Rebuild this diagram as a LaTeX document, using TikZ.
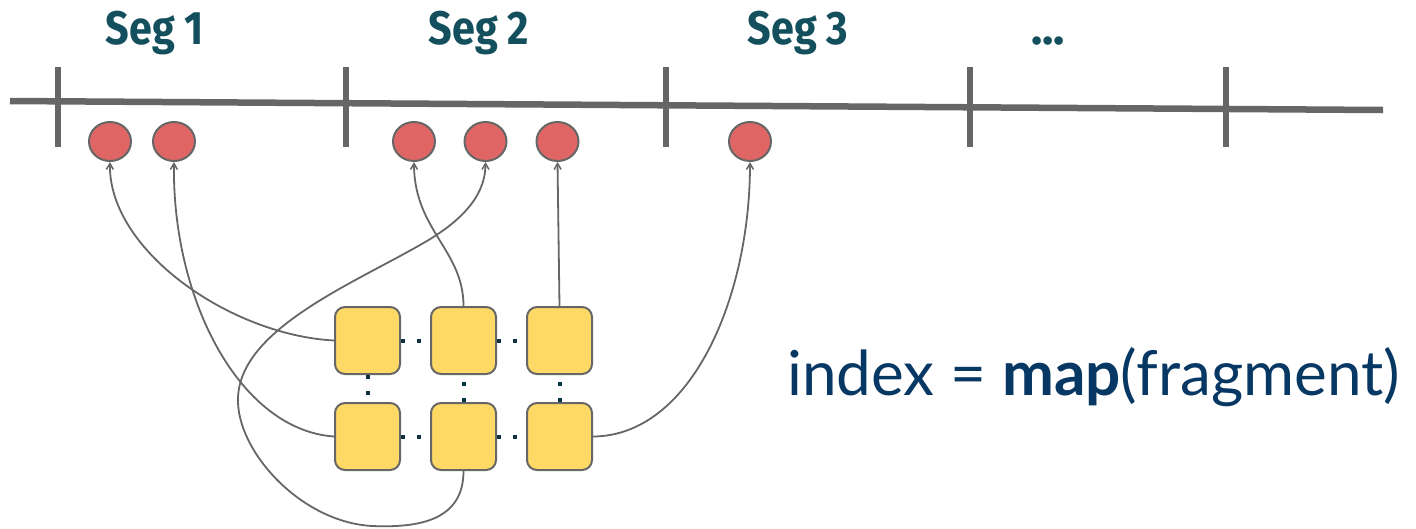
\documentclass[tikz,border=0pt]{standalone}
\usepackage{fontspec}
\setmainfont{Lato}
\newfontfamily\segfont{Fira Sans}
\usetikzlibrary{shapes.geometric,arrows.meta}
\definecolor{linegray}{HTML}{666666}
\definecolor{segteal}{HTML}{134F5C}
\definecolor{dotteal}{HTML}{0C343D}
\definecolor{fragred}{HTML}{E06666}
\definecolor{fragyellow}{HTML}{FFD966}
\definecolor{formblue}{HTML}{073763}
\tikzset{
  axis/.style={draw=linegray, line width=6.5pt},
  tickmark/.style={draw=linegray, line width=6.5pt},
  seglabel/.style={anchor=base, text=segteal, font=\segfont\bfseries\fontsize{47}{52}\selectfont, inner sep=0},
  slot/.style={ellipse, draw=linegray, fill=fragred, line width=2pt, minimum width=42pt, minimum height=39pt, inner sep=0},
  frag/.style={rectangle, rounded corners=10pt, draw=linegray, fill=fragyellow, line width=2pt, minimum width=65pt, minimum height=67pt, inner sep=0},
  griddots/.style={draw=dotteal, line width=4pt, dash pattern=on 4pt off 12pt on 4pt off 200pt},
  link/.style={draw=linegray, line width=1.8pt, -{Straight Barb[length=6pt,width=7pt,line width=1.5pt]}},
}
\begin{document}
\begin{tikzpicture}[x=1pt, y=-1pt]
\useasboundingbox (0,0) rectangle (1416,528);

% segment axis and boundaries
\draw[axis] (10,101) -- (1383,110);
\foreach \tx in {58,346,666,970,1226}
  \draw[tickmark] (\tx,67) -- (\tx,147);

% segment labels
\node[seglabel] (seg1) at (155,44) {\scalebox{0.88}[1]{Seg 1}};
\node[seglabel] (seg2) at (479,44) {\scalebox{0.88}[1]{Seg 2}};
\node[seglabel] (seg3) at (798,44) {\scalebox{0.88}[1]{Seg 3}};
\node[seglabel] (segmore) at (1048,44) {...};

% index slots
\node[slot] (e1) at (110,141.5) {};
\node[slot] (e2) at (174,141.5) {};
\node[slot] (e3) at (414,141.5) {};
\node[slot] (e4) at (485.5,141.5) {};
\node[slot] (e5) at (557.5,141.5) {};
\node[slot] (e6) at (750,141.5) {};

% fragment grid positions
\coordinate (p11) at (367.5,340.5);
\coordinate (p12) at (463.5,340.5);
\coordinate (p13) at (559.5,340.5);
\coordinate (p21) at (367.5,436.5);
\coordinate (p22) at (463.5,436.5);
\coordinate (p23) at (559.5,436.5);

% fragments
\node[frag] (s11) at (p11) {};
\node[frag] (s12) at (p12) {};
\node[frag] (s13) at (p13) {};
\node[frag] (s21) at (p21) {};
\node[frag] (s22) at (p22) {};
\node[frag] (s23) at (p23) {};

% ellipsis dots between fragments
\draw[griddots] (s11.east) -- (s12.west);
\draw[griddots] (s12.east) -- (s13.west);
\draw[griddots] (s21.east) -- (s22.west);
\draw[griddots] (s22.east) -- (s23.west);
\draw[griddots] (s11.south) -- (s21.north);
\draw[griddots] (s22.north) -- (s12.south);
\draw[griddots] (s23.north) -- (s13.south);

% mapping of fragments to slots
\draw[link] (s11.west) .. controls (230,335) and (108,250) .. (e1.south);
\draw[link] (s21.west) .. controls (240,430) and (172,300) .. (e2.south);
\draw[link] (s12.north) .. controls (463.5,250) and (414,230) .. (e3.south);
\draw[link] (s22.south) .. controls (463.5,520) and (420,528) .. (372,526)
  .. controls (300,522) and (236,450) .. (238,398)
  .. controls (240,330) and (350,285) .. (420,245)
  .. controls (470,217) and (485.5,190) .. (e4.south);
\draw[link] (s13.north) -- (e5.south);
\draw[link] (s23.east) .. controls (690,436) and (750,300) .. (e6.south);

% formula
\node[anchor=base west, inner sep=0, text=formblue, font=\fontsize{62}{68}\selectfont] (formula) at (787,395) {index = \textbf{map}(fragment)};
\end{tikzpicture}
\end{document}
